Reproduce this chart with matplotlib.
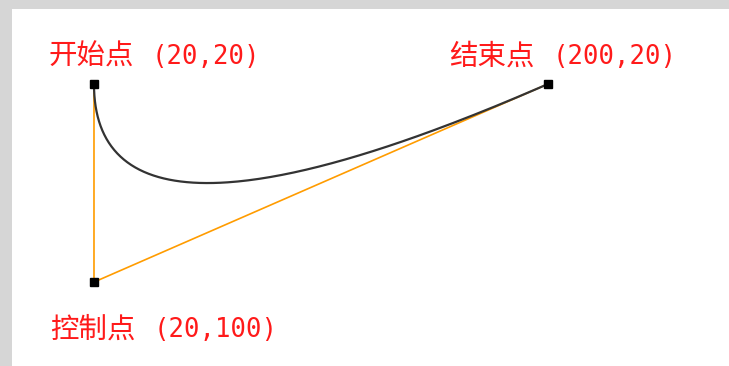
import numpy as np
import matplotlib.pyplot as plt
from matplotlib.patches import Rectangle
from matplotlib.transforms import offset_copy

plt.rcParams['font.family'] = ['Noto Sans CJK SC', 'DejaVu Sans']

# quadratic bezier: start, control, end (canvas coords, y down)
names = ['开始点', '控制点', '结束点']
px = [20, 20, 200]
py = [20, 100, 20]

fig = plt.figure(figsize=(7.29, 3.66), dpi=100)
fig.patch.set_facecolor('#d6d6d6')
fig.add_artist(Rectangle((12 / 729, 0), 1, 1 - 9 / 366, transform=fig.transFigure,
                         facecolor='white', edgecolor='none', zorder=-5))

ax = fig.add_axes([0, 0, 1, 1])
ax.set_facecolor('none')
ax.set_xlim(-17.27, 271.8)
ax.set_ylim(133.9, -13.94)
ax.axis('off')

# control polygon
ax.plot([px[0], px[1], px[2]], [py[0], py[1], py[2]], color='#ff9c00', lw=1.2, zorder=2)

# curve
t = np.linspace(0, 1, 200)
bx = (1 - t) ** 2 * px[0] + 2 * t * (1 - t) * px[1] + t ** 2 * px[2]
by = (1 - t) ** 2 * py[0] + 2 * t * (1 - t) * py[1] + t ** 2 * py[2]
ax.plot(bx, by, color='#333333', lw=1.6, zorder=3)

ax.plot(px, py, 's', color='black', markersize=5.5, zorder=4)

red = '#ff1a1a'
offsets = [(-18.2, -10.9), (-17.4, 19.4), (-39.2, -10.9)]
for n, x, y, (dx, dy) in zip(names, px, py, offsets):
    ax.text(x + dx, y + dy, n, color=red, fontsize=20.5, ha='left', va='center')
    tr = offset_copy(ax.transData, fig=fig, x=104, y=0, units='dots')
    ax.text(x + dx, y + dy, f'({x},{y})', color=red, fontsize=18.5,
            family='DejaVu Sans Mono', ha='left', va='center', transform=tr)

fig.savefig('out.png', dpi=100)
